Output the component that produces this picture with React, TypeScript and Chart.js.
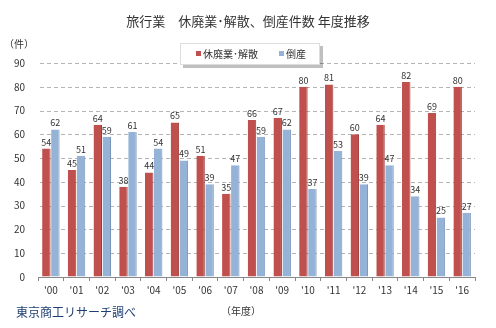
import React, { useEffect, useRef } from "react";
import { Chart, registerables } from "chart.js";

Chart.register(...registerables);

const years = ["'00","'01","'02","'03","'04","'05","'06","'07","'08","'09","'10","'11","'12","'13","'14","'15","'16"];
const closures = [54,45,64,38,44,65,51,35,66,67,80,81,60,64,82,69,80];
const bankruptcies = [62,51,59,61,54,49,39,47,59,62,37,53,39,47,34,25,27];
const yTicks = [0,10,20,30,40,50,60,70,80,90];
const seriesNames = ["休廃業･解散", "倒産"];
const titleText = "旅行業　休廃業･解散、倒産件数 年度推移";
const unitText = "（件）";
const xTitleText = "（年度）";
const sourceText = "東京商工リサーチ調べ";

const RED = "#C0504D";
const BLUE = "#95B3D7";
const FONT = "'Noto Sans CJK JP', 'DejaVu Sans', sans-serif";

const dashGridPlugin = {
  id: "dashGrid",
  beforeDatasetsDraw(chart: any) {
    const ctx = chart.ctx;
    const y = chart.scales.y;
    const { left, right } = chart.chartArea;
    ctx.save();
    ctx.strokeStyle = "#b4b4b4";
    ctx.lineWidth = 1;
    ctx.setLineDash([4, 3]);
    yTicks.forEach((v) => {
      if (v === 0) return;
      const py = Math.round(y.getPixelForValue(v)) + 0.5;
      ctx.beginPath();
      ctx.moveTo(left + 2, py);
      ctx.lineTo(right, py);
      ctx.stroke();
    });
    ctx.restore();
  },
};

const decorPlugin = {
  id: "decor",
  afterDatasetsDraw(chart: any) {
    const ctx = chart.ctx;
    ctx.save();
    ctx.font = `9px ${FONT}`;
    ctx.fillStyle = "#333";
    ctx.textAlign = "center";
    ctx.textBaseline = "bottom";
    chart.data.datasets.forEach((ds: any, di: number) => {
      const meta = chart.getDatasetMeta(di);
      meta.data.forEach((bar: any, i: number) => {
        ctx.fillText(String(ds.data[i]), bar.x, bar.y - 2);
      });
    });
    ctx.restore();
  },
  afterDraw(chart: any) {
    const ctx = chart.ctx;
    ctx.save();
    ctx.fillStyle = "#333";
    ctx.font = `13px ${FONT}`;
    ctx.textAlign = "center";
    ctx.textBaseline = "middle";
    ctx.fillText(titleText, 248, 21);
    ctx.font = `10px ${FONT}`;
    ctx.textAlign = "left";
    ctx.fillText(unitText, 4, 44);
    ctx.textAlign = "center";
    ctx.fillText(xTitleText, 241, 311);
    ctx.fillStyle = "#1F3F73";
    ctx.font = `12px ${FONT}`;
    ctx.textAlign = "left";
    ctx.fillText(sourceText, 16, 312);
    const bx = 180, by = 43, bw = 140, bh = 22;
    ctx.fillStyle = "rgba(0,0,0,0.25)";
    ctx.fillRect(bx + 3, by + 3, bw, bh);
    ctx.fillStyle = "#fff";
    ctx.fillRect(bx, by, bw, bh);
    ctx.strokeStyle = "#ddd";
    ctx.lineWidth = 1;
    ctx.strokeRect(bx + 0.5, by + 0.5, bw - 1, bh - 1);
    ctx.font = `10px ${FONT}`;
    ctx.textBaseline = "middle";
    ctx.fillStyle = RED;
    ctx.fillRect(196, 51, 5, 5);
    ctx.fillStyle = "#333";
    ctx.fillText(seriesNames[0], 203, 54);
    ctx.fillStyle = BLUE;
    ctx.fillRect(279, 51, 5, 5);
    ctx.fillStyle = "#333";
    ctx.fillText(seriesNames[1], 286, 54);
    ctx.restore();
  },
};

export default function App() {
  const ref = useRef<HTMLCanvasElement>(null);
  useEffect(() => {
    if (!ref.current) return;
    const chart = new Chart(ref.current, {
      type: "bar",
      data: {
        labels: years,
        datasets: [
          {
            label: seriesNames[0],
            data: closures,
            backgroundColor: RED,
            borderColor: "#9C3B38",
            borderWidth: { top: 0, left: 0, right: 1, bottom: 0 },
            categoryPercentage: 0.7,
            barPercentage: 0.94,
          },
          {
            label: seriesNames[1],
            data: bankruptcies,
            backgroundColor: BLUE,
            borderColor: "#7893B8",
            borderWidth: { top: 0, left: 0, right: 1, bottom: 0 },
            categoryPercentage: 0.7,
            barPercentage: 0.94,
          },
        ],
      },
      options: {
        animation: false,
        responsive: false,
        layout: { padding: { left: 0, right: 21, top: 63, bottom: 0 } },
        plugins: {
          legend: { display: false },
          title: { display: false },
          tooltip: { enabled: false },
        },
        scales: {
          x: {
            afterFit: (s: any) => { s.height = 51; },
            grid: {
              offset: true,
              drawOnChartArea: false,
              drawTicks: true,
              tickLength: 4,
              color: "#888",
            },
            border: { display: true, color: "#888" },
            ticks: { color: "#333", font: { family: FONT, size: 10 }, padding: 3, maxRotation: 0, autoSkip: false },
          },
          y: {
            min: 0,
            max: 90,
            afterFit: (s: any) => { s.width = 38; },
            afterBuildTicks: (s: any) => { s.ticks = yTicks.map((v) => ({ value: v })); },
            grid: { drawTicks: false, drawOnChartArea: false },
            border: { display: false },
            ticks: { color: "#333", font: { family: FONT, size: 10 }, padding: 13 },
          },
        },
      },
      plugins: [dashGridPlugin, decorPlugin],
    });
    return () => chart.destroy();
  }, []);
  return (
    <div style={{ position: "absolute", left: 0, top: 0, width: 496, height: 328, background: "#fff" }}>
      <canvas ref={ref} width={496} height={328} style={{ width: 496, height: 328 }} />
    </div>
  );
}
